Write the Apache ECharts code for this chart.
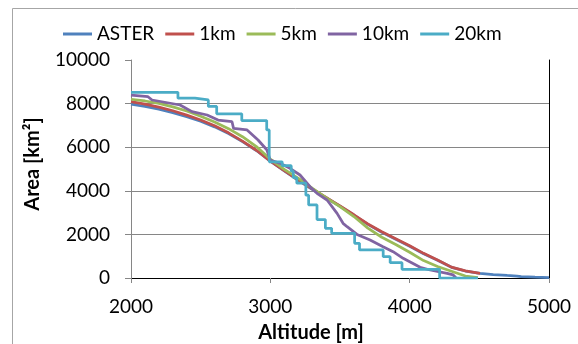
<!DOCTYPE html>
<html>
<head>
<meta charset="utf-8">
<style>
  html, body { margin: 0; padding: 0; background: #fff; }
  #chart { width: 578px; height: 344px; }
</style>
<script src="https://cdn.jsdelivr.net/npm/echarts@6/dist/echarts.min.js"></script>
</head>
<body>
<div id="chart"></div>
<script>
// legend names and colours (Excel 2007 palette)
var seriesNames = ['ASTER', '1km', '5km', '10km', '20km'];
var seriesColors = ['#4F81BD', '#C0504D', '#9BBB59', '#8064A2', '#4BACC6'];

// x ticks / y ticks
var xTicks = [2000, 3000, 4000, 5000];
var yTicks = [0, 2000, 4000, 6000, 8000, 10000];

// ASTER (reference DEM)
var asterAlt  = [2000, 2100, 2200, 2300, 2400, 2500, 2600, 2700, 2800, 2900, 3000, 3100, 3200, 3300, 3400, 3500, 3600, 3700, 3800, 3900, 4000, 4100, 4200, 4300, 4400, 4505, 4600, 4700, 4770, 4800, 4900, 5000];
var asterArea = [7970, 7872, 7744, 7586, 7398, 7190, 6932, 6624, 6256, 5848, 5360, 4910, 4480, 4070, 3680, 3290, 2880, 2460, 2100, 1780, 1460, 1110, 810, 490, 320, 215, 160, 115, 90, 60, 35, 15];

// 1 km
var km1Alt  = [2000, 2100, 2200, 2300, 2400, 2500, 2600, 2700, 2800, 2900, 3000, 3100, 3200, 3300, 3400, 3500, 3600, 3700, 3800, 3900, 4000, 4100, 4200, 4300, 4400, 4505];
var km1Area = [8090, 7980, 7840, 7670, 7470, 7250, 6980, 6660, 6280, 5860, 5360, 4930, 4500, 4090, 3700, 3310, 2900, 2480, 2120, 1800, 1480, 1130, 830, 500, 330, 215];

// 5 km
var km5Alt  = [2000, 2100, 2200, 2300, 2400, 2500, 2600, 2700, 2800, 2900, 3000, 3100, 3213, 3300, 3407, 3500, 3600, 3700, 3800, 3900, 4000, 4100, 4200, 4300, 4400, 4490];
var km5Area = [8200, 8120, 8010, 7850, 7660, 7420, 7160, 6850, 6480, 6030, 5450, 4980, 4520, 4120, 3656, 3271, 2820, 2290, 1870, 1540, 1180, 800, 530, 310, 90, 15];

// 10 km
var km10Alt  = [2000, 2122, 2151, 2352, 2438, 2546, 2625, 2725, 2736, 2833, 2912, 2976, 2998, 3070, 3141, 3213, 3285, 3335, 3407, 3479, 3522, 3551, 3622, 3716, 3809, 3881, 3953, 4075, 4147, 4269, 4312, 4333];
var km10Area = [8394, 8317, 8165, 7936, 7630, 7477, 7247, 7170, 6866, 6790, 6330, 5872, 5413, 5260, 5030, 4725, 4190, 3885, 3578, 2966, 2508, 2353, 2000, 1743, 1436, 1206, 902, 490, 367, 215, 140, 0];

// 20 km (stepped)
var km20Alt  = [2000, 2337, 2459, 2555, 2615, 2795, 2974, 2992, 3085, 3150, 3165, 3190, 3255, 3275, 3335, 3395, 3440, 3605, 3640, 3810, 3860, 3945, 4215, 4490];
var km20Area = [8520, 8250, 8170, 7870, 7530, 7220, 6790, 5330, 5150, 4900, 4600, 4350, 3800, 3350, 2680, 2280, 2050, 1590, 1290, 980, 700, 400, 0, 0];

function pairs(xs, ys) {
  return xs.map(function (x, i) { return [x, ys[i]]; });
}

var allData = [
  pairs(asterAlt, asterArea),
  pairs(km1Alt, km1Area),
  pairs(km5Alt, km5Area),
  pairs(km10Alt, km10Area),
  pairs(km20Alt, km20Area)
];

var font = 'Lato';
var gray = '#868686';
var plain = function (v) { return String(v); };

var chart = echarts.init(document.getElementById('chart'));

var option = {
  animation: false,
  textStyle: { fontFamily: font },
  graphic: [{
    type: 'rect',
    silent: true,
    shape: { x: 12.5, y: 8.5, width: 700, height: 500 },
    style: { fill: 'none', stroke: '#a6a6a6', lineWidth: 1 }
  }],
  legend: {
    left: 58,
    top: 18,
    icon: 'rect',
    itemWidth: 29,
    itemHeight: 3,
    itemGap: 11,
    textStyle: { fontFamily: font, fontSize: 19, lineHeight: 22, color: '#000' },
    data: seriesNames
  },
  grid: {
    left: 131,
    top: 60,
    width: 418,
    height: 218,
    outerBoundsMode: 'none',
    containLabel: false
  },
  xAxis: [{
    type: 'value',
    min: xTicks[0],
    max: xTicks[xTicks.length - 1],
    interval: 1000,
    axisLine: { lineStyle: { color: gray, width: 1 } },
    axisTick: { length: 5, lineStyle: { color: gray } },
    axisLabel: { fontFamily: font, fontSize: 19, lineHeight: 20, color: '#000', margin: 19, formatter: plain },
    splitLine: { show: false },
    name: 'Altitude [m]',
    nameLocation: 'middle',
    nameGap: 43,
    nameTextStyle: { fontFamily: font, fontWeight: 'bold', fontSize: 20, lineHeight: 22, color: '#000', padding: [0, 58, 0, 0] }
  }, {
    // top frame of the plot area
    type: 'value',
    position: 'top',
    min: xTicks[0],
    max: xTicks[xTicks.length - 1],
    axisLine: { show: true, lineStyle: { color: '#000', width: 1 } },
    axisTick: { show: false },
    axisLabel: { show: false },
    splitLine: { show: false }
  }],
  yAxis: [{
    type: 'value',
    min: yTicks[0],
    max: yTicks[yTicks.length - 1],
    interval: 2000,
    axisLine: { show: true, lineStyle: { color: gray, width: 1 } },
    axisTick: { show: true, length: 6, lineStyle: { color: gray } },
    axisLabel: { fontFamily: font, fontSize: 19, color: '#000', margin: 21, formatter: plain },
    splitLine: { show: true, showMinLine: false, showMaxLine: false, lineStyle: { color: gray, width: 1 } },
    name: 'Area [km²]',
    nameLocation: 'middle',
    nameGap: 87,
    nameTextStyle: { fontFamily: font, fontWeight: 'bold', fontSize: 20, lineHeight: 22, color: '#000', padding: [0, 0, 0, 10] }
  }, {
    // right frame of the plot area
    type: 'value',
    position: 'right',
    min: yTicks[0],
    max: yTicks[yTicks.length - 1],
    axisLine: { show: true, lineStyle: { color: '#000', width: 1 } },
    axisTick: { show: false },
    axisLabel: { show: false },
    splitLine: { show: false }
  }],
  series: seriesNames.map(function (name, i) {
    return {
      name: name,
      type: 'line',
      data: allData[i],
      step: name === '20km' ? 'end' : false,
      symbol: 'none',
      showSymbol: false,
      color: seriesColors[i],
      lineStyle: { width: 2.75, color: seriesColors[i] }
    };
  })
};

chart.setOption(option);
</script>
</body>
</html>
